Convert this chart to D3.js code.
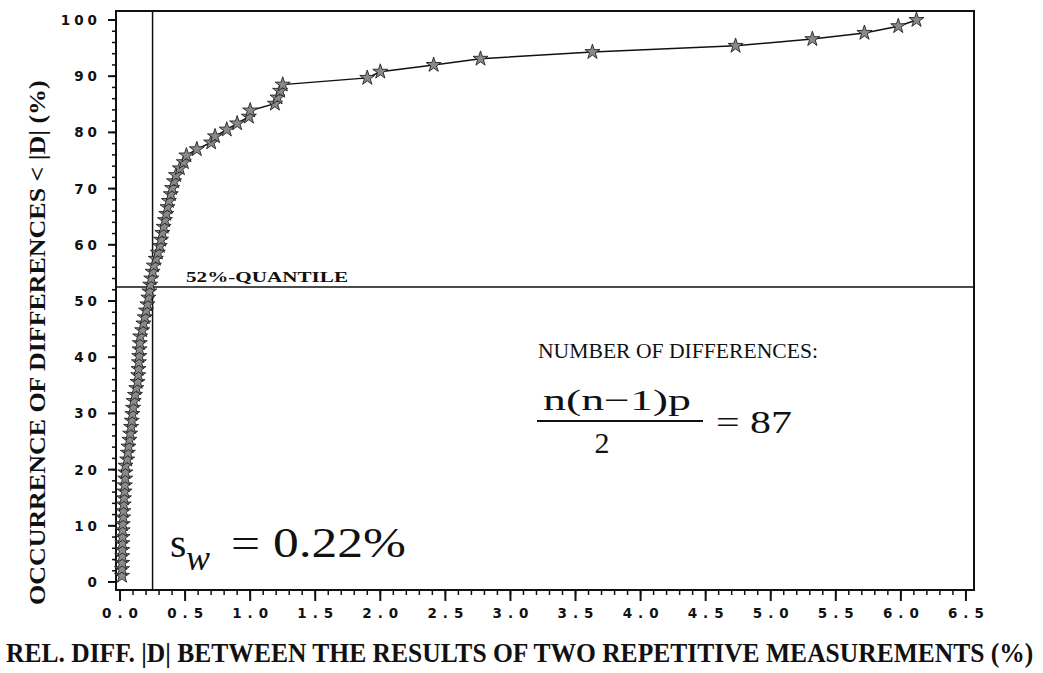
<!DOCTYPE html>
<html>
<head>
<meta charset="utf-8">
<script src="https://cdn.jsdelivr.net/npm/d3@7"></script>
<style>
  body { margin: 0; background: #fff; }
  .tick-label { font-family: "DejaVu Sans", sans-serif; font-weight: bold; font-size: 13.5px; fill: #111; }
  .serif { font-family: "Liberation Serif", "DejaVu Serif", serif; fill: #111; }
</style>
</head>
<body>
<script>
// Rel. differences |D| (%) sorted ascending, and their cumulative occurrence (%)
var diffs = [
  0.015, 0.015, 0.016, 0.017, 0.018, 0.018, 0.019, 0.020, 0.021, 0.024,
  0.026, 0.028, 0.030, 0.035, 0.037, 0.040, 0.041, 0.042, 0.055, 0.060,
  0.065, 0.072, 0.078, 0.085, 0.090, 0.095, 0.100, 0.105, 0.115, 0.125,
  0.135, 0.140, 0.142, 0.145, 0.148, 0.150, 0.152, 0.155, 0.170, 0.180,
  0.190, 0.200, 0.210, 0.218, 0.225, 0.232, 0.240, 0.250, 0.260, 0.275,
  0.290, 0.305, 0.315, 0.325, 0.335, 0.345, 0.355, 0.365, 0.375, 0.390,
  0.400, 0.415, 0.430, 0.460, 0.490, 0.510, 0.590, 0.700, 0.730, 0.820,
  0.900, 0.990, 1.000, 1.190, 1.210, 1.230, 1.250, 1.900, 2.000, 2.410,
  2.770, 3.630, 4.730, 5.320, 5.720, 5.980, 6.120
];
var occurrence = [
  1.1, 2.3, 3.4, 4.6, 5.7, 6.9, 8.0, 9.2, 10.3, 11.5,
  12.6, 13.8, 14.9, 16.1, 17.2, 18.4, 19.5, 20.7, 21.8, 23.0,
  24.1, 25.3, 26.4, 27.6, 28.7, 29.9, 31.0, 32.2, 33.3, 34.5,
  35.6, 36.8, 37.9, 39.1, 40.2, 41.4, 42.5, 43.7, 44.8, 46.0,
  47.1, 48.3, 49.4, 50.6, 51.7, 52.9, 54.0, 55.2, 56.3, 57.5,
  58.6, 59.8, 60.9, 62.1, 63.2, 64.4, 65.5, 66.7, 67.8, 69.0,
  70.1, 71.3, 72.4, 73.6, 74.7, 75.9, 77.0, 78.2, 79.3, 80.5,
  81.6, 82.8, 83.9, 85.1, 86.2, 87.4, 88.5, 89.7, 90.8, 92.0,
  93.1, 94.3, 95.4, 96.6, 97.7, 98.9, 100.0
];
var xTicks = [0, 0.5, 1, 1.5, 2, 2.5, 3, 3.5, 4, 4.5, 5, 5.5, 6, 6.5];
var yTicks = [0, 10, 20, 30, 40, 50, 60, 70, 80, 90, 100];
var quantileY = 52.5;   // 52%-quantile line
var swX = 0.25;         // vertical reference line

var width = 1043, height = 673;
var box = { left: 116, top: 11, right: 974, bottom: 590 };

var svg = d3.select("body").append("svg")
    .attr("width", width)
    .attr("height", height);

var x = d3.scaleLinear().domain([-0.031, 6.562]).range([box.left, box.right]);
var y = d3.scaleLinear().domain([-1.42, 101.6]).range([box.bottom, box.top]);

// frame
svg.append("rect")
    .attr("x", box.left).attr("y", box.top)
    .attr("width", box.right - box.left).attr("height", box.bottom - box.top)
    .attr("fill", "none").attr("stroke", "#111").attr("stroke-width", 2);

// x axis: major + minor ticks
var xMinor = d3.range(0, 66).map(function (d) { return d / 10; });
svg.append("g").selectAll("line").data(xMinor).enter().append("line")
    .attr("x1", function (d) { return x(d); }).attr("x2", function (d) { return x(d); })
    .attr("y1", box.bottom).attr("y2", box.bottom + 5)
    .attr("stroke", "#111").attr("stroke-width", 1.5);
svg.append("g").selectAll("line").data(xTicks).enter().append("line")
    .attr("x1", function (d) { return x(d); }).attr("x2", function (d) { return x(d); })
    .attr("y1", box.bottom).attr("y2", box.bottom + 11)
    .attr("stroke", "#111").attr("stroke-width", 2);
svg.append("g").selectAll("text").data(xTicks).enter().append("text")
    .attr("class", "tick-label")
    .attr("x", function (d) { return x(d) + 3; })
    .attr("y", 618)
    .attr("text-anchor", "middle")
    .style("letter-spacing", "6px")
    .text(function (d) { return d3.format(".1f")(d); });

// y axis: major + minor ticks
var yMinor = d3.range(0, 51).map(function (d) { return d * 2; });
svg.append("g").selectAll("line").data(yMinor).enter().append("line")
    .attr("x1", box.left - 4).attr("x2", box.left)
    .attr("y1", function (d) { return y(d); }).attr("y2", function (d) { return y(d); })
    .attr("stroke", "#111").attr("stroke-width", 1.5);
svg.append("g").selectAll("line").data(yTicks).enter().append("line")
    .attr("x1", box.left - 8).attr("x2", box.left)
    .attr("y1", function (d) { return y(d); }).attr("y2", function (d) { return y(d); })
    .attr("stroke", "#111").attr("stroke-width", 2);
svg.append("g").selectAll("text").data(yTicks).enter().append("text")
    .attr("class", "tick-label")
    .attr("x", 101)
    .attr("y", function (d) { return y(d) + 5; })
    .attr("text-anchor", "end")
    .style("letter-spacing", "4px")
    .text(function (d) { return d; });

// reference lines
svg.append("line")
    .attr("x1", box.left).attr("x2", box.right)
    .attr("y1", y(quantileY)).attr("y2", y(quantileY))
    .attr("stroke", "#111").attr("stroke-width", 1.5);
svg.append("line")
    .attr("x1", x(swX)).attr("x2", x(swX))
    .attr("y1", box.top).attr("y2", box.bottom)
    .attr("stroke", "#111").attr("stroke-width", 1.5);

// the cumulative curve
var pts = diffs.map(function (d, i) { return [d, occurrence[i]]; });
var line = d3.line()
    .x(function (d) { return x(d[0]); })
    .y(function (d) { return y(d[1]); });
svg.append("path")
    .datum(pts)
    .attr("d", line)
    .attr("fill", "none")
    .attr("stroke", "#111")
    .attr("stroke-width", 1.5);

// star markers
var star = d3.symbol().type(d3.symbolStar).size(70);
svg.append("g").selectAll("path").data(pts).enter().append("path")
    .attr("d", star)
    .attr("transform", function (d) { return "translate(" + x(d[0]) + "," + y(d[1]) + ")"; })
    .attr("fill", "#8a8a8a")
    .attr("stroke", "#222")
    .attr("stroke-width", 0.9);

// annotations
svg.append("text").attr("class", "serif")
    .attr("x", 186).attr("y", 282)
    .attr("font-size", 15).attr("font-weight", "bold")
    .attr("textLength", 162).attr("lengthAdjust", "spacingAndGlyphs")
    .text("52%-QUANTILE");

svg.append("text").attr("class", "serif")
    .attr("x", 538).attr("y", 358)
    .attr("font-size", 21)
    .attr("textLength", 280).attr("lengthAdjust", "spacingAndGlyphs")
    .text("NUMBER OF DIFFERENCES:");

svg.append("text").attr("class", "serif")
    .attr("x", 543).attr("y", 410)
    .attr("font-size", 30)
    .attr("textLength", 148).attr("lengthAdjust", "spacingAndGlyphs")
    .text("n(n\u22121)p");
svg.append("line")
    .attr("x1", 537).attr("x2", 703).attr("y1", 421).attr("y2", 421)
    .attr("stroke", "#111").attr("stroke-width", 2);
svg.append("text").attr("class", "serif")
    .attr("x", 602).attr("y", 453)
    .attr("font-size", 30).attr("text-anchor", "middle")
    .text("2");
svg.append("text").attr("class", "serif")
    .attr("x", 716).attr("y", 433)
    .attr("font-size", 31)
    .attr("textLength", 76).attr("lengthAdjust", "spacingAndGlyphs")
    .text("= 87");

svg.append("text").attr("class", "serif")
    .attr("x", 170).attr("y", 557)
    .attr("font-size", 42)
    .text("s");
svg.append("text").attr("class", "serif")
    .attr("x", 186).attr("y", 570)
    .attr("font-size", 36).attr("font-style", "italic")
    .text("w");
svg.append("text").attr("class", "serif")
    .attr("x", 231).attr("y", 557)
    .attr("font-size", 42)
    .attr("textLength", 175).attr("lengthAdjust", "spacingAndGlyphs")
    .text("= 0.22%");

// axis titles (squeezed horizontally to fit the page width)
var xTitle = svg.append("text").attr("class", "serif")
    .attr("x", 0).attr("y", 0)
    .attr("font-size", 27).attr("font-weight", "bold")
    .text("REL. DIFF. |D| BETWEEN THE RESULTS OF TWO REPETITIVE MEASUREMENTS (%)");
var natural = xTitle.node().getComputedTextLength();
xTitle.attr("transform", "translate(6,662) scale(" + (1028 / natural) + ",1)");

var yTitle = svg.append("text").attr("class", "serif")
    .attr("x", 0).attr("y", 0)
    .attr("font-size", 24).attr("font-weight", "bold")
    .text("OCCURRENCE OF DIFFERENCES < |D| (%)");
var naturalY = yTitle.node().getComputedTextLength();
yTitle.attr("transform", "translate(45,605) rotate(-90) scale(" + (525 / naturalY) + ",1)");
</script>
</body>
</html>
